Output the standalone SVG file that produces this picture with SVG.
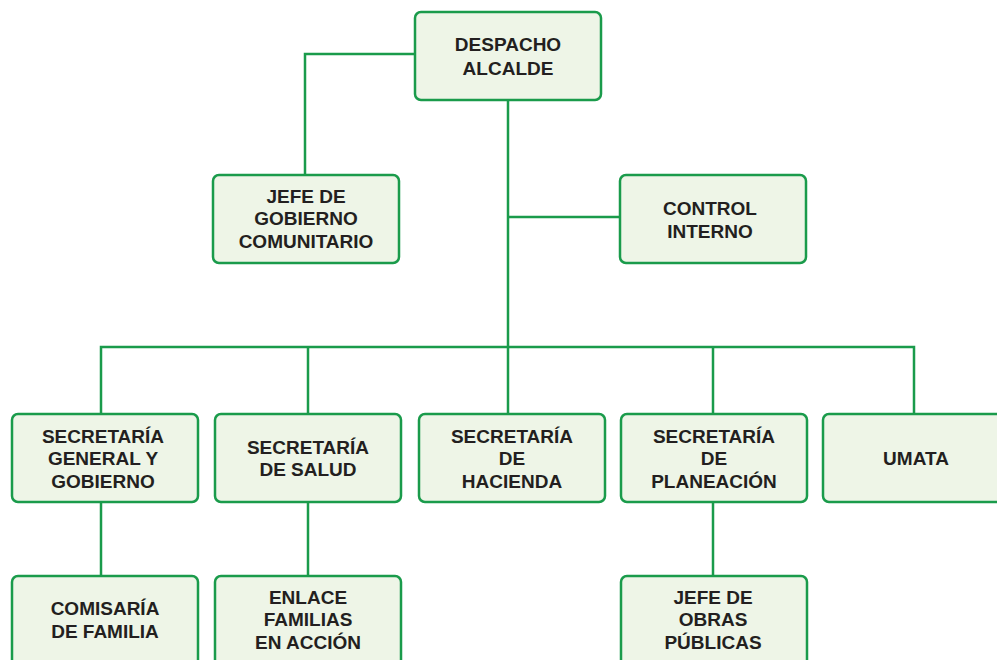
<svg xmlns="http://www.w3.org/2000/svg" width="997" height="660" viewBox="0 0 997 660">
<style>
.box{fill:#eef5e7;stroke:#1a9b4b;stroke-width:2.5}
.ln{fill:none;stroke:#1a9b4b;stroke-width:2.5}
text{font-family:"Liberation Sans",Arial,sans-serif;font-weight:bold;font-size:19px;fill:#231f20;text-anchor:middle;dominant-baseline:central}
</style>
<rect width="997" height="660" fill="#ffffff"/>
<g id="connectors">
<path class="ln" d="M415 54H305V175"/>
<path class="ln" d="M508 100V414"/>
<path class="ln" d="M508 217H620"/>
<path class="ln" d="M101 414V347H914V414"/>
<path class="ln" d="M308 347V414"/>
<path class="ln" d="M713 347V414"/>
<path class="ln" d="M101 502V576"/>
<path class="ln" d="M308 502V576"/>
<path class="ln" d="M713 502V576"/>
</g>
<g id="despacho"><rect class="box" x="415" y="12" width="186" height="88" rx="6"/><text x="508" y="44">DESPACHO</text><text x="508" y="68">ALCALDE</text></g>
<g id="jefe-gobierno"><rect class="box" x="213" y="175" width="186" height="88" rx="6"/><text x="306" y="196">JEFE DE</text><text x="306" y="218">GOBIERNO</text><text x="306" y="241">COMUNITARIO</text></g>
<g id="control"><rect class="box" x="620" y="175" width="186" height="88" rx="6"/><text x="710" y="208">CONTROL</text><text x="710" y="231">INTERNO</text></g>
<g id="sec-general"><rect class="box" x="12" y="414" width="186" height="88" rx="6"/><text x="103" y="436">SECRETARÍA</text><text x="103" y="458">GENERAL Y</text><text x="103" y="481">GOBIERNO</text></g>
<g id="sec-salud"><rect class="box" x="215" y="414" width="186" height="88" rx="6"/><text x="308" y="447">SECRETARÍA</text><text x="308" y="469">DE SALUD</text></g>
<g id="sec-hacienda"><rect class="box" x="419" y="414" width="186" height="88" rx="6"/><text x="512" y="436">SECRETARÍA</text><text x="512" y="458">DE</text><text x="512" y="481">HACIENDA</text></g>
<g id="sec-planeacion"><rect class="box" x="621" y="414" width="186" height="88" rx="6"/><text x="714" y="436">SECRETARÍA</text><text x="714" y="458">DE</text><text x="714" y="481">PLANEACIÓN</text></g>
<g id="umata"><rect class="box" x="823" y="414" width="186" height="88" rx="6"/><text x="916" y="458">UMATA</text></g>
<g id="comisaria"><rect class="box" x="12" y="576" width="186" height="96" rx="6"/><text x="105" y="608">COMISARÍA</text><text x="105" y="631">DE FAMILIA</text></g>
<g id="enlace"><rect class="box" x="215" y="576" width="186" height="96" rx="6"/><text x="308" y="597">ENLACE</text><text x="308" y="619">FAMILIAS</text><text x="308" y="642">EN ACCIÓN</text></g>
<g id="jefe-obras"><rect class="box" x="621" y="576" width="186" height="96" rx="6"/><text x="713" y="597">JEFE DE</text><text x="713" y="619">OBRAS</text><text x="713" y="642">PÚBLICAS</text></g>
</svg>
